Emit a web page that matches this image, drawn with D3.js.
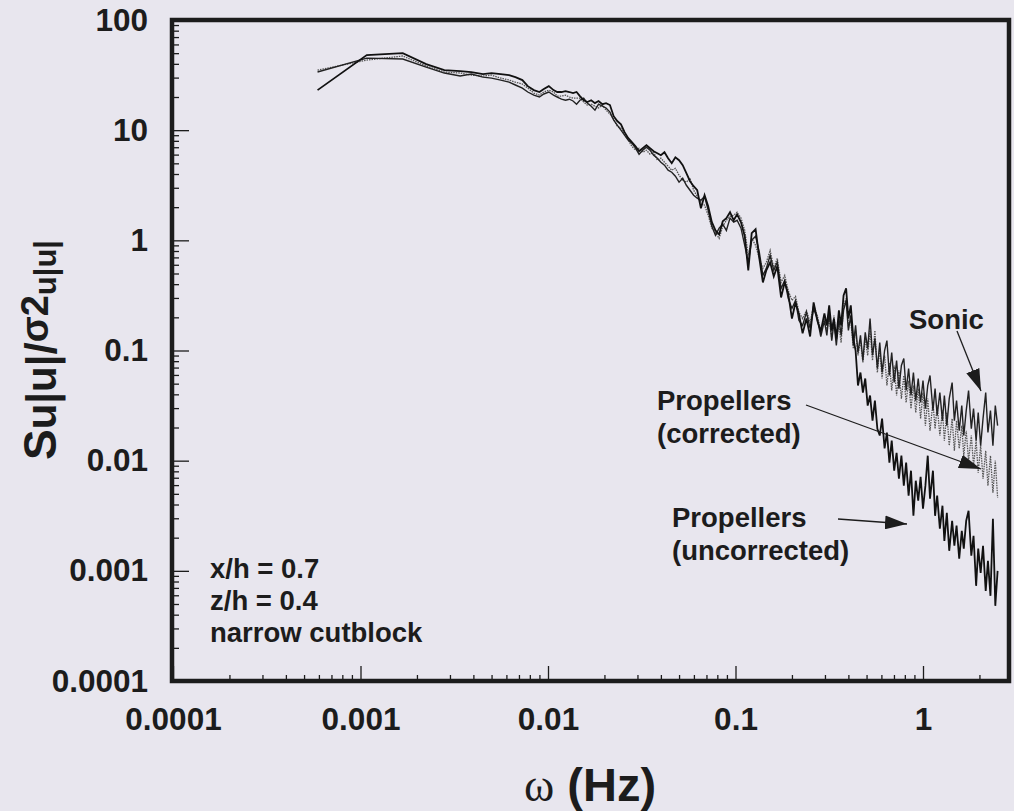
<!DOCTYPE html>
<html lang="en">
<head>
<meta charset="UTF-8">
<title>Spectra of |u|</title>
<script src="https://cdn.jsdelivr.net/npm/d3@7"></script>
<style>
  body { margin: 0; background: #e8e6ee; }
  svg { display: block; font-family: "Liberation Sans", Arial, sans-serif; }
</style>
</head>
<body>
<div id="chart"></div>
<script>
// frequency (Hz), shared by the three spectra
const freq = [
  0.00059, 0.00108, 0.00168, 0.00224, 0.0028, 0.0034, 0.0039, 0.0045, 0.005, 0.0056,
  0.0062, 0.0067, 0.0073, 0.0078, 0.0084, 0.009, 0.0095, 0.0101, 0.0107, 0.0112,
  0.0118, 0.0124, 0.013, 0.0136, 0.0142, 0.0148, 0.0155, 0.0162, 0.017, 0.0178,
  0.0186, 0.0195, 0.0204, 0.0214, 0.0224, 0.0234, 0.0245, 0.0256, 0.0268, 0.028,
  0.0293, 0.0306, 0.032, 0.0335, 0.035, 0.0366, 0.0383, 0.04, 0.0418, 0.0437,
  0.0457, 0.0478, 0.05, 0.0523, 0.0547, 0.0572, 0.0598, 0.0625, 0.0654, 0.0684,
  0.0715, 0.0748, 0.0782, 0.0818, 0.0855, 0.0894, 0.0935, 0.0978, 0.102, 0.107,
  0.112, 0.117, 0.122, 0.128, 0.134, 0.14, 0.146, 0.153, 0.16, 0.167,
  0.175, 0.183, 0.191, 0.2, 0.209, 0.218, 0.228, 0.239, 0.25, 0.261,
  0.273, 0.285, 0.298,
  0.307, 0.316, 0.326, 0.335, 0.345, 0.356, 0.366, 0.377, 0.389, 0.4,
  0.412, 0.425, 0.437, 0.45, 0.464, 0.478, 0.492, 0.507, 0.522, 0.538,
  0.554, 0.571, 0.588, 0.605, 0.624, 0.642, 0.662, 0.681, 0.702, 0.723,
  0.744, 0.767, 0.79, 0.813, 0.838, 0.863, 0.889, 0.915, 0.943, 0.971,
  1.0, 1.03, 1.06, 1.09, 1.13, 1.16, 1.19, 1.23, 1.27, 1.3,
  1.34, 1.38, 1.43, 1.47, 1.51, 1.56, 1.61, 1.65, 1.7, 1.75,
  1.81, 1.86, 1.92, 1.97, 2.03, 2.09, 2.16, 2.22, 2.29, 2.36,
  2.43, 2.5
];

const sonic = [
  33.7, 45.1, 44.2, 37.4, 33.0, 31.0, 32.3, 30.3, 29.7, 28.5,
  27.3, 25.7, 24.1, 22.2, 20.8, 20.0, 21.3, 22.2, 20.8, 20.0,
  19.1, 18.7, 19.1, 18.4, 17.2, 18.7, 19.5, 17.6, 16.5, 15.2,
  17.2, 16.5, 15.9, 14.6, 12.3, 11.1, 10.0, 9.01, 8.11, 7.62,
  6.86, 6.05, 6.58, 7.01, 6.58, 5.93, 5.57, 5.12, 4.81, 4.33,
  4.15, 3.82, 3.37, 3.66, 3.16, 2.85, 2.57, 2.41, 2.31, 2.51,
  1.87, 1.34, 1.11, 1.29, 1.40, 1.23, 1.59, 1.46, 1.52, 1.29,
  0.901, 0.631, 1.0, 1.09, 0.778, 0.481, 0.557, 0.731, 0.534, 0.631,
  0.366, 0.433, 0.297, 0.241, 0.285, 0.187, 0.169, 0.222, 0.159, 0.241,
  0.195, 0.134, 0.187,
  0.137, 0.222, 0.123, 0.180, 0.111, 0.195, 0.137, 0.231, 0.285, 0.152,
  0.208, 0.111, 0.169, 0.0959, 0.137, 0.0811, 0.146, 0.104, 0.195, 0.0901,
  0.129, 0.0686, 0.118, 0.0631, 0.100, 0.123, 0.0593, 0.0959, 0.0512, 0.0811,
  0.0451, 0.0731, 0.0846, 0.0433, 0.0686, 0.0390, 0.0631, 0.0351, 0.0557, 0.0337,
  0.0534, 0.0297, 0.0481, 0.0593, 0.0285, 0.0451, 0.0257, 0.0415, 0.0231, 0.0390,
  0.0208, 0.0366, 0.0512, 0.0231, 0.0351, 0.0187, 0.0316, 0.0169, 0.0285, 0.0433,
  0.0195, 0.0297, 0.0152, 0.0273, 0.0137, 0.0241, 0.0415, 0.0180, 0.0285, 0.0137,
  0.0316, 0.0208
];

const propCorrected = [
  35.1, 43.3, 47.1, 38.2, 33.7, 33.0, 31.6, 31.0, 31.6, 29.7,
  28.5, 27.3, 26.2, 24.1, 21.7, 20.8, 22.2, 23.1, 22.2, 20.4,
  20.4, 20.8, 20.0, 19.5, 19.5, 19.5, 18.0, 16.9, 17.2, 16.5,
  15.9, 16.9, 15.2, 14.0, 12.6, 10.9, 10.4, 9.20, 8.11, 7.15,
  6.58, 6.86, 6.31, 6.58, 6.05, 6.31, 5.34, 5.57, 5.12, 4.71,
  4.33, 4.51, 3.90, 3.51, 3.37, 3.66, 2.85, 2.51, 2.21, 2.08,
  1.69, 1.29, 1.18, 1.04, 1.34, 1.52, 1.65, 1.69, 1.80, 1.59,
  1.23, 0.731, 1.04, 0.901, 0.686, 0.557, 0.631, 0.811, 0.557, 0.686,
  0.415, 0.481, 0.351, 0.285, 0.310, 0.222, 0.195, 0.231, 0.180, 0.257,
  0.208, 0.152, 0.195,
  0.152, 0.195, 0.129, 0.208, 0.123, 0.169, 0.118, 0.257, 0.297, 0.169,
  0.187, 0.104, 0.152, 0.0901, 0.123, 0.0778, 0.129, 0.0901, 0.152, 0.0811,
  0.152, 0.0631, 0.104, 0.0557, 0.0901, 0.0481, 0.0778, 0.0433, 0.0731, 0.0390,
  0.0658, 0.0366, 0.0593, 0.0337, 0.0534, 0.0297, 0.0481, 0.0273, 0.0451, 0.0241,
  0.0415, 0.0208, 0.0366, 0.0187, 0.0337, 0.0195, 0.0316, 0.0169, 0.0285, 0.0152,
  0.0273, 0.0137, 0.0241, 0.0123, 0.0231, 0.0129, 0.0208, 0.0111, 0.0187, 0.0100,
  0.0169, 0.00901, 0.0152, 0.00778, 0.0137, 0.00686, 0.0123, 0.00593, 0.0111, 0.00512,
  0.0100, 0.00461
];

const propUncorrected = [
  23.1, 48.1, 50.1, 39.8, 35.1, 34.4, 33.7, 32.3, 33.0, 32.3,
  31.6, 30.3, 28.5, 25.1, 23.1, 22.2, 23.6, 25.1, 23.1, 22.2,
  22.2, 22.6, 22.2, 21.7, 22.2, 20.4, 18.7, 18.0, 18.7, 17.6,
  18.4, 17.2, 17.6, 16.9, 13.4, 12.1, 11.3, 9.59, 8.46, 7.78,
  7.15, 6.44, 6.86, 7.31, 6.86, 6.44, 6.18, 5.93, 6.31, 5.57,
  5.01, 5.68, 5.34, 4.81, 4.07, 3.44, 3.10, 2.85, 1.95, 2.57,
  2.04, 1.46, 1.23, 1.13, 1.49, 1.59, 1.80, 1.52, 1.72, 1.46,
  1.09, 0.534, 1.16, 1.26, 0.686, 0.415, 0.534, 0.631, 0.471, 0.580,
  0.303, 0.415, 0.330, 0.195, 0.273, 0.213, 0.143, 0.195, 0.134, 0.273,
  0.187, 0.149, 0.217,
  0.169, 0.257, 0.152, 0.195, 0.129, 0.231, 0.169, 0.316, 0.366, 0.195,
  0.257, 0.129, 0.100, 0.0481, 0.0631, 0.0415, 0.0557, 0.0316, 0.0390, 0.0231,
  0.0351, 0.0195, 0.0169, 0.0241, 0.0129, 0.0180, 0.00959, 0.0152, 0.00811, 0.0118,
  0.00686, 0.0111, 0.00593, 0.00959, 0.00481, 0.00811, 0.00316, 0.00658, 0.00433, 0.00715,
  0.00366, 0.00593, 0.0111, 0.00451, 0.00811, 0.00316, 0.00481, 0.00241, 0.00390, 0.00187,
  0.00337, 0.00152, 0.00285, 0.00169, 0.00257, 0.00129, 0.00231, 0.00159, 0.00285, 0.00351,
  0.00137, 0.00208, 0.000731, 0.00159, 0.000959, 0.00169, 0.000658, 0.00123, 0.000593, 0.00297,
  0.000481, 0.001
];

const xTicks = [0.0001, 0.001, 0.01, 0.1, 1];
const xTickLabels = ['0.0001', '0.001', '0.01', '0.1', '1'];
const yTicks = [0.0001, 0.001, 0.01, 0.1, 1, 10, 100];
const yTickLabels = ['0.0001', '0.001', '0.01', '0.1', '1', '10', '100'];
const siteNotes = ['x/h = 0.7', 'z/h = 0.4', 'narrow cutblock'];

var width = 1014, height = 811;
var plotLeft = 172, plotTop = 20, plotRight = 1009, plotBottom = 681;
var ink = '#1c1c1c';

var x = d3.scaleLog().domain([1e-4, 1]).range([173, 923]);
var y = d3.scaleLog().domain([1e-4, 100]).range([plotBottom, plotTop]);

var svg = d3.select('#chart').append('svg')
    .attr('width', width)
    .attr('height', height);

svg.append('rect').attr('width', width).attr('height', height).attr('fill', '#e8e6ee');

// minor tick positions (2..9 in each decade)
var xMinor = [], yMinor = [];
[1e-4, 1e-3, 1e-2, 1e-1, 1].forEach(d => {
    for (let m = 2; m <= 9; m++) if (d * m < 2.9) xMinor.push(d * m);
});
[1e-4, 1e-3, 1e-2, 1e-1, 1, 10].forEach(d => {
    for (let m = 2; m <= 9; m++) yMinor.push(d * m);
});

svg.append('clipPath').attr('id', 'plotClip')
    .append('rect')
    .attr('x', plotLeft).attr('y', plotTop)
    .attr('width', plotRight - plotLeft).attr('height', plotBottom - plotTop);

// spectra
var line = d3.line()
    .x(d => x(d[0]))
    .y(d => y(d[1]));

var curves = svg.append('g').attr('clip-path', 'url(#plotClip)');

curves.append('path')
    .attr('d', line(d3.zip(freq, propCorrected)))
    .attr('fill', 'none')
    .attr('stroke', '#555')
    .attr('stroke-width', 1.3)
    .attr('stroke-dasharray', '1.5,1');

curves.append('path')
    .attr('d', line(d3.zip(freq, sonic)))
    .attr('fill', 'none')
    .attr('stroke', '#222')
    .attr('stroke-width', 1.4);

curves.append('path')
    .attr('d', line(d3.zip(freq, propUncorrected)))
    .attr('fill', 'none')
    .attr('stroke', '#111')
    .attr('stroke-width', 1.8);

// axes
svg.append('g')
    .attr('transform', `translate(${plotLeft},0)`)
    .call(d3.axisLeft(y).tickValues(yTicks).tickFormat((d, i) => yTickLabels[i]).tickSize(-17).tickPadding(24));
svg.append('g')
    .attr('transform', `translate(${plotLeft},0)`)
    .call(d3.axisLeft(y).tickValues(yMinor).tickFormat('').tickSize(-7));

svg.append('g')
    .attr('transform', `translate(0,${plotBottom})`)
    .call(d3.axisBottom(x).tickValues(xTicks).tickFormat((d, i) => xTickLabels[i]).tickSize(-15).tickPadding(27));
svg.append('g')
    .attr('transform', `translate(0,${plotBottom})`)
    .call(d3.axisBottom(x).tickValues(xMinor).tickFormat('').tickSize(-6));

svg.selectAll('.domain').remove();
svg.selectAll('.tick line').attr('stroke', ink).attr('stroke-width', 1.3);
svg.selectAll('.tick text')
    .attr('fill', ink)
    .style('font-family', '"Liberation Sans", Arial, sans-serif')
    .style('font-size', '31.5px')
    .style('font-weight', 'bold');

// frame
svg.append('rect')
    .attr('x', plotLeft).attr('y', plotTop)
    .attr('width', plotRight - plotLeft).attr('height', plotBottom - plotTop)
    .attr('fill', 'none')
    .attr('stroke', ink)
    .attr('stroke-width', 4.5);

// axis titles
var xt = svg.append('text')
    .attr('x', 524).attr('y', 801)
    .attr('fill', ink);
xt.append('tspan')
    .style('font-family', '"Liberation Serif", "Times New Roman", serif')
    .style('font-size', '46px')
    .text('ω');
xt.append('tspan')
    .style('font-size', '47px')
    .style('font-weight', 'bold')
    .text(' (Hz)');

var yt = svg.append('text')
    .attr('transform', 'translate(56,350) rotate(-90)')
    .attr('text-anchor', 'middle')
    .attr('fill', ink)
    .style('font-weight', 'bold');
yt.append('tspan').style('font-size', '46px').text('S');
yt.append('tspan').style('font-size', '42px').text('u|u|');
yt.append('tspan').style('font-size', '44px').text('/');
yt.append('tspan').attr('dy', -8).style('font-size', '38px').text('σ2');
yt.append('tspan').attr('dy', 8).style('font-size', '31px').text('u|u|');

// annotations
var notes = svg.append('g')
    .attr('fill', ink)
    .style('font-size', '27.5px')
    .style('font-weight', 'bold');

notes.selectAll('text.site')
    .data(siteNotes)
    .join('text')
    .attr('class', 'site')
    .attr('x', 210)
    .attr('y', (d, i) => 578 + i * 32)
    .text(d => d);

function label(lines, lx, ly) {
    lines.forEach((t, i) => {
        notes.append('text').attr('x', lx).attr('y', ly + i * 33).text(t);
    });
}
label(['Sonic'], 909, 329);
label(['Propellers', '(corrected)'], 657, 410);
label(['Propellers', '(uncorrected)'], 672, 527);

// arrows
svg.append('defs').append('marker')
    .attr('id', 'head')
    .attr('markerUnits', 'userSpaceOnUse')
    .attr('viewBox', '0 0 22 14')
    .attr('refX', 22).attr('refY', 7)
    .attr('markerWidth', 22).attr('markerHeight', 14)
    .attr('orient', 'auto')
    .append('path')
    .attr('d', 'M0,0L22,7L0,14Z')
    .attr('fill', ink);

[[957, 331, 981, 391], [806, 405, 981, 469], [838, 519, 907, 524]].forEach(a => {
    svg.append('line')
        .attr('x1', a[0]).attr('y1', a[1])
        .attr('x2', a[2]).attr('y2', a[3])
        .attr('stroke', ink)
        .attr('stroke-width', 1.3)
        .attr('marker-end', 'url(#head)');
});
</script>
</body>
</html>
